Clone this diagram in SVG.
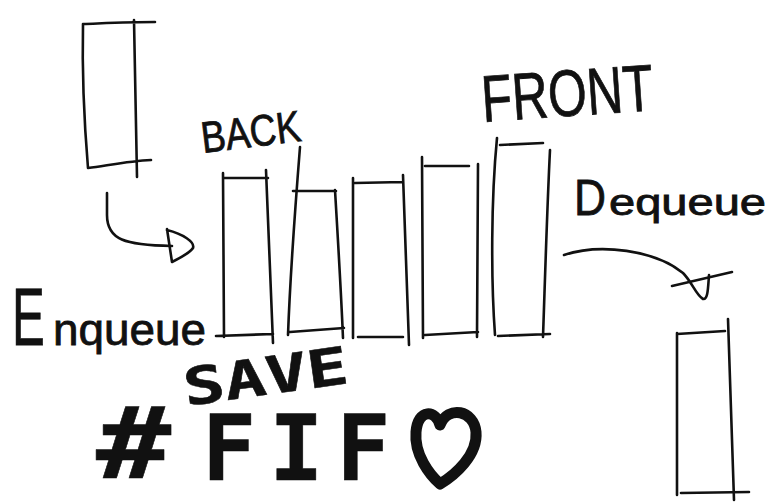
<svg xmlns="http://www.w3.org/2000/svg" width="768" height="503" viewBox="0 0 768 503">
<style>
.ln{fill:none;stroke:#111;stroke-width:2.6;stroke-linecap:round;stroke-linejoin:round}
.hw{font-family:"Liberation Sans","DejaVu Sans",sans-serif;fill:#111;stroke:#111;stroke-width:0.8}
.brush{font-family:"DejaVu Sans Mono","DejaVu Sans",monospace;font-weight:bold;fill:#111;stroke:#111;stroke-width:0.5;stroke-linejoin:round}
.bp{fill:none;stroke:#111;stroke-width:11;stroke-linecap:round;stroke-linejoin:round}
</style>
<rect width="768" height="503" fill="#fff"/>
<g id="box-incoming">
<path class="ln" d="M83,24 C82,70 84,120 88,168 M83,24 C110,23 130,22 155,22 M134,20 C135,70 136,120 137,177 M88,168 C110,165 130,161 151,160"/>
</g>
<g id="queue-1">
<path class="ln" d="M223,173 L224,337 M224,178 L268,178 M266,170 C268,230 271,290 273,343 M216,336 L273,334"/>
</g>
<g id="queue-2">
<path class="ln" d="M300,147 C295,210 290,280 288,335 M293,191 L336,191 M335,190 C338,240 341,290 343,338 M290,332 L344,328"/>
</g>
<g id="queue-3">
<path class="ln" d="M353,178 L353,338 M355,183 L403,182 M403,175 C405,230 407,290 409,345 M358,337 L403,337"/>
</g>
<g id="queue-4">
<path class="ln" d="M422,157 L423,338 M425,166 L469,166 M478,164 L477,337 M425,335 L478,332"/>
</g>
<g id="queue-5">
<path class="ln" d="M497,138 C491,200 491,280 495,335 M500,145 L543,143 M550,150 C547,210 545,280 543,337 M498,336 L550,334"/>
</g>
<g id="box-outgoing">
<path class="ln" d="M677,333 L677,495 M677,334 L725,331 M728,319 C730,380 732,440 734,500 M681,493 L749,492"/>
</g>
<g id="connectors">
<path class="ln" d="M107,193 L107,215 C107,240 125,245 172,246"/>
<path class="ln" d="M167,229 L172,262 M167,230 C183,234 195,242 193,248 C190,253 180,258 172,262"/>
<path class="ln" d="M564,255 C600,243 655,250 683,273 C692,282 696,295 703,299 C708,300 708,288 709,275"/>
<path class="ln" d="M672,286 L732,272"/>
</g>
<g id="label-back">
<text class="hw" x="203" y="153" font-size="44" textLength="100" lengthAdjust="spacingAndGlyphs" transform="rotate(-7 203 153)">BACK</text>
</g>
<g id="label-front">
<text class="hw" x="483" y="122" font-size="66" textLength="172" lengthAdjust="spacingAndGlyphs" transform="rotate(-4 483 122)">FRONT</text>
</g>
<g id="label-dequeue">
<text class="hw" x="574" y="215" font-size="50" textLength="32" lengthAdjust="spacingAndGlyphs">D</text>
<text class="hw" x="609" y="215" font-size="36" textLength="157" lengthAdjust="spacingAndGlyphs">equeue</text>
</g>
<g id="label-enqueue">
<text class="hw" x="0" y="0" font-size="82" transform="translate(12 345) scale(0.6 1)">E</text>
<text class="hw" x="53" y="345" font-size="44" textLength="153" lengthAdjust="spacingAndGlyphs">nqueue</text>
</g>
<g id="label-save">
<text class="brush" x="186" y="406" font-size="52" font-family="DejaVu Sans" transform="rotate(-8 186 406)" textLength="166" lengthAdjust="spacingAndGlyphs">SAVE</text>
</g>
<g id="label-fifo">
<text class="brush" x="0" y="0" font-size="100" transform="translate(96 478) scale(1.25 1)">#</text>
<text class="brush" x="202" y="480" font-size="90" letter-spacing="13">FIF</text>
<path class="bp" d="M440,425 C436,410 418,408 416,432 C414,455 430,475 440,484 C455,475 478,455 476,432 C474,410 448,405 440,425"/>
</g>
</svg>
